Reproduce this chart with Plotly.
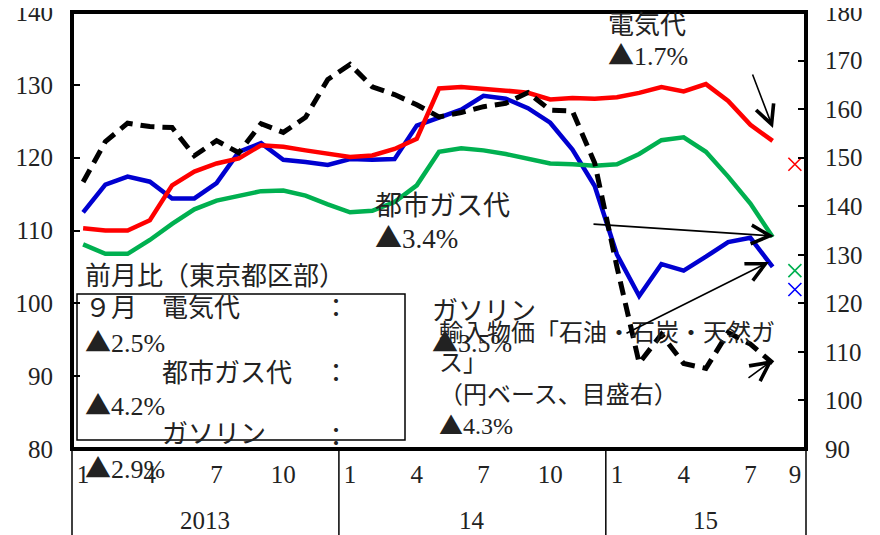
import plotly.graph_objects as go

# ---------------- data ----------------
years = [2013] * 12 + [2014] * 12 + [2015] * 9
month_nums = list(range(1, 13)) * 2 + list(range(1, 10))
year_labels = {2013: "2013", 2014: "14", 2015: "15"}

electricity = [110.3, 110.0, 110.0, 111.4, 116.2, 118.1, 119.2, 119.9, 121.7, 121.5, 121.0, 120.6,
               120.1, 120.3, 121.2, 122.6, 129.5, 129.7, 129.5, 129.2, 128.9, 128.0, 128.2, 128.1,
               128.3, 128.9, 129.7, 129.1, 130.1, 127.8, 124.5, 122.3]
city_gas = [108.1, 106.8, 106.8, 108.7, 110.9, 112.9, 114.1, 114.8, 115.4, 115.5, 114.8, 113.6,
            112.5, 112.7, 113.9, 116.2, 120.8, 121.3, 121.0, 120.5, 119.8, 119.2, 119.1, 118.9,
            119.1, 120.5, 122.4, 122.8, 120.8, 117.4, 113.7, 109.1]
gasoline = [112.5, 116.3, 117.4, 116.7, 114.4, 114.4, 116.5, 120.8, 122.0, 119.7, 119.4, 119.0,
            119.8, 119.7, 119.8, 124.4, 125.5, 126.6, 128.5, 128.1, 126.8, 124.8, 121.1, 116.1,
            106.7, 101.0, 105.4, 104.5, 106.4, 108.4, 109.0, 105.0]
import_price = [145.0, 153.3, 157.1, 156.4, 156.2, 150.4, 153.5, 151.0, 157.0, 155.2, 158.3, 166.1,
                169.2, 164.6, 163.0, 160.9, 158.4, 159.3, 160.5, 161.2, 163.4, 159.8, 159.6, 148.9,
                127.5, 107.7, 113.6, 107.6, 106.6, 114.0, 111.6, 107.7]
# September 2015 (Tokyo) values shown as crosses
sep_electricity = [119.1]
sep_city_gas = [104.5]
sep_gasoline = [101.9]

idx = list(range(len(years)))
line_x = idx[:len(electricity)]
sep_x = [idx[-1]]

tick_vals = [i for i, m in enumerate(month_nums) if m in (1, 4, 7, 10) or i == len(month_nums) - 1]
tick_text = [str(month_nums[i]) for i in tick_vals]

# ---------------- geometry helpers ----------------
# the page body has an 8px margin, so the figure is 8px smaller than the window
BODY = 8
W, H = 880 - BODY, 535 - BODY
PL, PR, PT, PB = 72, 806, 12, 449          # plot area in window pixels
L, R, T, B = PL - BODY, (880 - PR), PT - BODY, (535 - PB)
PW, PH = PR - PL, PB - PT


def px(x):
    return (x - PL) / PW


def py(y):
    return (PB - y) / PH


SERIF = "Liberation Serif, Noto Sans CJK JP, serif"
TRI = "<span style='font-family:Noto Sans CJK JP'>▲</span>"
TXT = "#222222"

fig = go.Figure()

fig.add_trace(go.Scatter(x=line_x, y=gasoline, mode="lines", name="ガソリン",
                         line=dict(color="#0000D0", width=4.5)))
fig.add_trace(go.Scatter(x=line_x, y=city_gas, mode="lines", name="都市ガス代",
                         line=dict(color="#00B050", width=4.5)))
fig.add_trace(go.Scatter(x=line_x, y=electricity, mode="lines", name="電気代",
                         line=dict(color="#FF0000", width=4.5)))
fig.add_trace(go.Scatter(x=line_x, y=import_price, mode="lines", name="輸入物価", yaxis="y2",
                         line=dict(color="black", width=5, dash="14px,8px")))

for vals, col in [(sep_electricity, "#FF0000"), (sep_city_gas, "#00B050"), (sep_gasoline, "#0000FF")]:
    fig.add_trace(go.Scatter(x=sep_x, y=vals, mode="markers", showlegend=False,
                             marker=dict(symbol="x-thin", size=13, line=dict(width=1.6, color=col))))

annotations = []


def text(t, x, y, size=26, anchor="left"):
    annotations.append(dict(text=t, x=px(x), y=py(y), xref="paper", yref="paper",
                            xanchor=anchor, yanchor="middle", showarrow=False,
                            font=dict(family=SERIF, size=size, color=TXT)))


def arrow(tip, tail):
    annotations.append(dict(text="", x=px(tip[0]), y=py(tip[1]), xref="paper", yref="paper",
                            ax=tail[0] - tip[0], ay=tail[1] - tip[1], axref="pixel", ayref="pixel",
                            showarrow=True, arrowhead=5, arrowsize=2.3, arrowwidth=1.6,
                            arrowcolor="black"))


# title (cut off at the top edge in the original)
text("エネルギー価格", 453, -9, size=27, anchor="center")

text("電気代", 606, 25)
text(TRI + "1.7%", 606, 53)
text("都市ガス代", 373, 206, size=27)
text(TRI + "3.4%", 373, 236, size=27)
text("ガソリン", 430, 311)
text(TRI + "3.5%", 430, 340)
text("輸入物価「石油・石炭・天然ガ", 437, 333, size=24)
text("ス」", 437, 363, size=24)
text("（円ベース、目盛右）", 437, 395, size=24)
text(TRI + "4.3%", 437, 423, size=24)

text("前月比（東京都区部）", 83, 276)
text("９月", 83, 308)
text("電気代", 160, 308)
text("：", 336, 308, anchor="center")
text(TRI + "2.5%", 83, 340)
text("都市ガス代", 160, 373)
text("：", 336, 373, anchor="center")
text(TRI + "4.2%", 83, 403)
text("ガソリン", 160, 434)
text("：", 336, 437, anchor="center")
text(TRI + "2.9%", 83, 466)

arrow((773, 128), (752, 73))
arrow((774, 236), (592, 224))
arrow((769, 262), (625, 334))
arrow((773, 360), (747, 379))

# year labels below month labels
for yr in sorted(set(years)):
    members = [i for i, y in enumerate(years) if y == yr]
    mid = (members[0] - 0.5 + members[-1] + 0.5) / 2
    annotations.append(dict(text=year_labels[yr], x=mid, y=py(520), xref="x", yref="paper",
                            xanchor="center", yanchor="middle", showarrow=False,
                            font=dict(family=SERIF, size=25, color=TXT)))

shapes = []
# year separators
for i in range(1, len(years)):
    if years[i] != years[i - 1]:
        shapes.append(dict(type="line", xref="x", yref="paper", x0=i - 0.5, x1=i - 0.5,
                           y0=0, y1=py(540), line=dict(color="black", width=1.5)))
for xe in (0, 1):
    shapes.append(dict(type="line", xref="paper", yref="paper", x0=xe, x1=xe,
                       y0=0, y1=py(540), line=dict(color="black", width=1.5)))
# frame
shapes.append(dict(type="rect", xref="paper", yref="paper", x0=0, x1=1, y0=0, y1=1,
                   line=dict(color="black", width=4)))
# note box
shapes.append(dict(type="rect", xref="paper", yref="paper", x0=px(77), x1=px(405),
                   y0=py(440), y1=py(294), line=dict(color="black", width=1.5)))

fig.update_layout(
    width=W, height=H,
    margin=dict(l=L, r=R, t=T, b=B, pad=0, autoexpand=False),
    paper_bgcolor="white", plot_bgcolor="white",
    showlegend=False,
    annotations=annotations,
    shapes=shapes,
    xaxis=dict(range=[-0.5, len(years) - 0.5], tickvals=tick_vals, ticktext=tick_text,
               showgrid=False, zeroline=False, showline=False, ticks="", automargin=False,
               tickfont=dict(family=SERIF, size=25, color=TXT), ticklabelstandoff=8,
               ticklabeloverflow="allow"),
    yaxis=dict(range=[80, 140], dtick=10, showgrid=False, zeroline=False, showline=False,
               ticks="inside", ticklen=8, tickwidth=1.5, tickcolor="black", automargin=False,
               tickfont=dict(family=SERIF, size=25, color=TXT), ticklabelstandoff=18,
               ticklabeloverflow="allow"),
    yaxis2=dict(range=[90, 180], dtick=10, overlaying="y", side="right", showgrid=False,
                zeroline=False, showline=False, ticks="inside", ticklen=8, tickwidth=1.5,
                tickcolor="black", tickfont=dict(family=SERIF, size=25, color=TXT),
                ticklabelstandoff=18, ticklabeloverflow="allow", automargin=False),
)

fig.write_html("out.html")
